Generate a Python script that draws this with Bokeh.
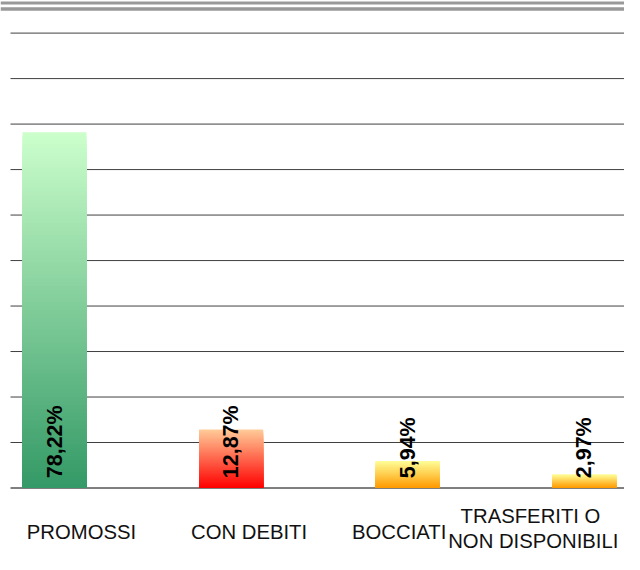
import numpy as np
from bokeh.plotting import figure
from bokeh.models import Span, ColumnDataSource
from bokeh.core.properties import value
from bokeh.embed import file_html
from bokeh.resources import INLINE

# ---- data ----
categories = ["PROMOSSI", "CON DEBITI", "BOCCIATI", "TRASFERITI  O\nNON DISPONIBILI"]
values = [78.22, 12.87, 5.94, 2.97]
top_colors = ["#ccffcc", "#ffcc99", "#ffff99", "#ffff99"]
bottom_colors = ["#339966", "#ff0000", "#ff9900", "#ff9900"]
grid_ticks = [0, 10, 20, 30, 40, 50, 60, 70, 80, 90, 100]

# ---- layout geometry (pixels) ----
W, H = 624, 554
PX_X = 176.6          # pixels per category
PX_Y = 4.549          # pixels per percent
BASE_PX = 487.5       # baseline position inside figure
y_end = BASE_PX / PX_Y
y_start = -(H - BASE_PX) / PX_Y
x_start = -54 / PX_X
x_end = x_start + W / PX_X
BAR_W = 64 / PX_X

p = figure(width=W, height=H, x_range=(x_start, x_end), y_range=(y_start, y_end),
           output_backend="svg", toolbar_location=None,
           x_axis_location=None, y_axis_location=None,
           min_border=0, outline_line_color=None,
           background_fill_color="white", border_fill_color="white")
p.grid.visible = False

# top double rule
p.add_layout(Span(location=y_end - 2.5 / PX_Y, dimension="width",
                  line_color="#999999", line_width=3))
p.add_layout(Span(location=y_end - 8.5 / PX_Y, dimension="width",
                  line_color="#999999", line_width=3.4))

# gridlines
gx0 = x_start + 10 / PX_X
gx1 = x_end
p.segment(x0=[gx0] * len(grid_ticks), x1=[gx1] * len(grid_ticks),
          y0=grid_ticks, y1=grid_ticks,
          line_color=["#000000" if t == 0 else "#404040" for t in grid_ticks],
          line_width=1)

# gradient bars (nested layers, top colour first)
def hex2rgb(h):
    h = h.lstrip("#")
    return np.array([int(h[i:i + 2], 16) for i in (0, 2, 4)], dtype=float)

N = 90
L, R, B, T, C = [], [], [], [], []
xs = list(range(len(categories)))
for i, v in enumerate(values):
    c0, c1 = hex2rgb(top_colors[i]), hex2rgb(bottom_colors[i])
    for s in range(N):
        t = (s + 0.5) / N
        col = c0 + (c1 - c0) * t
        L.append(xs[i] - BAR_W / 2)
        R.append(xs[i] + BAR_W / 2)
        B.append(0)
        T.append(v * (1 - s / N))
        C.append("#%02x%02x%02x" % tuple(int(round(c)) for c in col))
p.quad(left=L, right=R, bottom=B, top=T, fill_color=C, line_color=None)

# value labels
labels = [("%.2f" % v).replace(".", ",") + "%" for v in values]
p.text(x=xs, y=[0] * len(xs), text=labels, angle=np.pi / 2,
       text_align="left", text_baseline="middle", y_offset=-9.75,
       text_font=value("Liberation Sans"), text_font_style="bold",
       text_font_size="21.5px", text_color="black")

# category labels (Excel-style placement offsets, in pixels)
src = ColumnDataSource(dict(x=xs, y=[0] * len(xs), text=categories,
                            xo=[27, 18, -8.5, -51],
                            yo=[43.5, 43.5, 43.5, 40.5]))
p.text(x="x", y="y", text="text", source=src, x_offset="xo", y_offset="yo",
       text_align="center", text_baseline="middle", text_line_height=1.17,
       text_font=value("Liberation Sans"), text_font_size="20.3px",
       text_color="#111111")

open("out.html", "w").write(file_html(p, INLINE))
